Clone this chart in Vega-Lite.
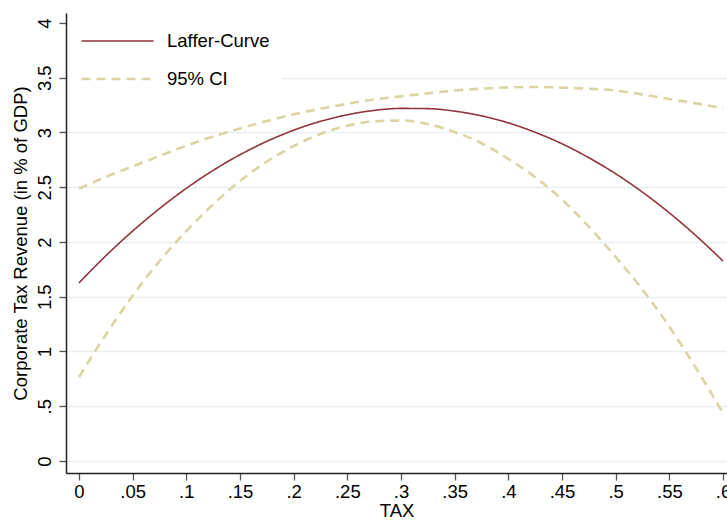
{
  "$schema": "https://vega.github.io/schema/vega-lite/v6.json",
  "width": 661,
  "height": 460,
  "autosize": {"type": "none"},
  "padding": {"left": 66, "top": 13, "right": 0, "bottom": 48},
  "background": "white",
  "config": {"view": {"stroke": null}, "font": "Liberation Sans"},
  "data": {"values": [
    {"tax": 0.000, "value": 1.627, "series": "Laffer-Curve", "band": "fit"},
    {"tax": 0.025, "value": 1.874, "series": "Laffer-Curve", "band": "fit"},
    {"tax": 0.050, "value": 2.100, "series": "Laffer-Curve", "band": "fit"},
    {"tax": 0.075, "value": 2.305, "series": "Laffer-Curve", "band": "fit"},
    {"tax": 0.100, "value": 2.490, "series": "Laffer-Curve", "band": "fit"},
    {"tax": 0.125, "value": 2.654, "series": "Laffer-Curve", "band": "fit"},
    {"tax": 0.150, "value": 2.797, "series": "Laffer-Curve", "band": "fit"},
    {"tax": 0.175, "value": 2.919, "series": "Laffer-Curve", "band": "fit"},
    {"tax": 0.200, "value": 3.021, "series": "Laffer-Curve", "band": "fit"},
    {"tax": 0.225, "value": 3.102, "series": "Laffer-Curve", "band": "fit"},
    {"tax": 0.250, "value": 3.162, "series": "Laffer-Curve", "band": "fit"},
    {"tax": 0.275, "value": 3.202, "series": "Laffer-Curve", "band": "fit"},
    {"tax": 0.300, "value": 3.220, "series": "Laffer-Curve", "band": "fit"},
    {"tax": 0.325, "value": 3.218, "series": "Laffer-Curve", "band": "fit"},
    {"tax": 0.350, "value": 3.195, "series": "Laffer-Curve", "band": "fit"},
    {"tax": 0.375, "value": 3.152, "series": "Laffer-Curve", "band": "fit"},
    {"tax": 0.400, "value": 3.088, "series": "Laffer-Curve", "band": "fit"},
    {"tax": 0.425, "value": 3.002, "series": "Laffer-Curve", "band": "fit"},
    {"tax": 0.450, "value": 2.897, "series": "Laffer-Curve", "band": "fit"},
    {"tax": 0.475, "value": 2.770, "series": "Laffer-Curve", "band": "fit"},
    {"tax": 0.500, "value": 2.623, "series": "Laffer-Curve", "band": "fit"},
    {"tax": 0.525, "value": 2.455, "series": "Laffer-Curve", "band": "fit"},
    {"tax": 0.550, "value": 2.266, "series": "Laffer-Curve", "band": "fit"},
    {"tax": 0.575, "value": 2.056, "series": "Laffer-Curve", "band": "fit"},
    {"tax": 0.600, "value": 1.826, "series": "Laffer-Curve", "band": "fit"},
    {"tax": 0.000, "value": 2.487, "series": "95% CI", "band": "upper"},
    {"tax": 0.025, "value": 2.594, "series": "95% CI", "band": "upper"},
    {"tax": 0.050, "value": 2.690, "series": "95% CI", "band": "upper"},
    {"tax": 0.075, "value": 2.785, "series": "95% CI", "band": "upper"},
    {"tax": 0.100, "value": 2.880, "series": "95% CI", "band": "upper"},
    {"tax": 0.125, "value": 2.964, "series": "95% CI", "band": "upper"},
    {"tax": 0.150, "value": 3.037, "series": "95% CI", "band": "upper"},
    {"tax": 0.175, "value": 3.104, "series": "95% CI", "band": "upper"},
    {"tax": 0.200, "value": 3.166, "series": "95% CI", "band": "upper"},
    {"tax": 0.225, "value": 3.217, "series": "95% CI", "band": "upper"},
    {"tax": 0.250, "value": 3.262, "series": "95% CI", "band": "upper"},
    {"tax": 0.275, "value": 3.302, "series": "95% CI", "band": "upper"},
    {"tax": 0.300, "value": 3.330, "series": "95% CI", "band": "upper"},
    {"tax": 0.325, "value": 3.358, "series": "95% CI", "band": "upper"},
    {"tax": 0.350, "value": 3.383, "series": "95% CI", "band": "upper"},
    {"tax": 0.375, "value": 3.400, "series": "95% CI", "band": "upper"},
    {"tax": 0.400, "value": 3.412, "series": "95% CI", "band": "upper"},
    {"tax": 0.425, "value": 3.416, "series": "95% CI", "band": "upper"},
    {"tax": 0.450, "value": 3.410, "series": "95% CI", "band": "upper"},
    {"tax": 0.475, "value": 3.400, "series": "95% CI", "band": "upper"},
    {"tax": 0.500, "value": 3.383, "series": "95% CI", "band": "upper"},
    {"tax": 0.525, "value": 3.347, "series": "95% CI", "band": "upper"},
    {"tax": 0.550, "value": 3.306, "series": "95% CI", "band": "upper"},
    {"tax": 0.575, "value": 3.266, "series": "95% CI", "band": "upper"},
    {"tax": 0.600, "value": 3.222, "series": "95% CI", "band": "upper"},
    {"tax": 0.000, "value": 0.767, "series": "95% CI", "band": "lower"},
    {"tax": 0.025, "value": 1.154, "series": "95% CI", "band": "lower"},
    {"tax": 0.050, "value": 1.510, "series": "95% CI", "band": "lower"},
    {"tax": 0.075, "value": 1.825, "series": "95% CI", "band": "lower"},
    {"tax": 0.100, "value": 2.100, "series": "95% CI", "band": "lower"},
    {"tax": 0.125, "value": 2.344, "series": "95% CI", "band": "lower"},
    {"tax": 0.150, "value": 2.557, "series": "95% CI", "band": "lower"},
    {"tax": 0.175, "value": 2.734, "series": "95% CI", "band": "lower"},
    {"tax": 0.200, "value": 2.876, "series": "95% CI", "band": "lower"},
    {"tax": 0.225, "value": 2.987, "series": "95% CI", "band": "lower"},
    {"tax": 0.250, "value": 3.062, "series": "95% CI", "band": "lower"},
    {"tax": 0.275, "value": 3.102, "series": "95% CI", "band": "lower"},
    {"tax": 0.300, "value": 3.110, "series": "95% CI", "band": "lower"},
    {"tax": 0.325, "value": 3.078, "series": "95% CI", "band": "lower"},
    {"tax": 0.350, "value": 3.005, "series": "95% CI", "band": "lower"},
    {"tax": 0.375, "value": 2.902, "series": "95% CI", "band": "lower"},
    {"tax": 0.400, "value": 2.758, "series": "95% CI", "band": "lower"},
    {"tax": 0.425, "value": 2.592, "series": "95% CI", "band": "lower"},
    {"tax": 0.450, "value": 2.387, "series": "95% CI", "band": "lower"},
    {"tax": 0.475, "value": 2.140, "series": "95% CI", "band": "lower"},
    {"tax": 0.500, "value": 1.863, "series": "95% CI", "band": "lower"},
    {"tax": 0.525, "value": 1.565, "series": "95% CI", "band": "lower"},
    {"tax": 0.550, "value": 1.226, "series": "95% CI", "band": "lower"},
    {"tax": 0.575, "value": 0.846, "series": "95% CI", "band": "lower"},
    {"tax": 0.600, "value": 0.436, "series": "95% CI", "band": "lower"}
  ]},
  "mark": {"type": "line", "interpolate": "monotone", "clip": true},
  "encoding": {
    "x": {
      "field": "tax", "type": "quantitative",
      "scale": {"domain": [-0.0121, 0.6037], "nice": false, "zero": false},
      "axis": {
        "title": "TAX",
        "values": [0, 0.05, 0.1, 0.15, 0.2, 0.25, 0.3, 0.35, 0.4, 0.45, 0.5, 0.55, 0.6],
        "labelExpr": "replace(format(datum.value, '.2~f'), '0.', '.')",
        "grid": false,
        "labelFontSize": 18.5, "titleFontSize": 18.5, "titleFontWeight": "normal",
        "labelColor": "black", "titleColor": "black",
        "domainColor": "#222", "domainWidth": 1.5,
        "tickColor": "#555", "tickSize": 7, "tickWidth": 1.3,
        "labelPadding": 2, "titlePadding": 1,
        "labelFlush": false, "labelOverlap": false
      }
    },
    "y": {
      "field": "value", "type": "quantitative",
      "scale": {"domain": [-0.1096, 4.0913], "nice": false, "zero": false},
      "axis": {
        "title": "Corporate Tax Revenue (in % of GDP)",
        "values": [0, 0.5, 1, 1.5, 2, 2.5, 3, 3.5, 4],
        "labelExpr": "replace(format(datum.value, '.1~f'), '0.', '.')",
        "labelAngle": -90,
        "grid": true, "gridColor": "#e8eff1", "gridWidth": 1.5,
        "gridOpacity": {"condition": {"test": "datum.value >= 4", "value": 0}, "value": 1},
        "labelFontSize": 18.5, "titleFontSize": 18.5, "titleFontWeight": "normal",
        "labelColor": "black", "titleColor": "black",
        "domainColor": "#222", "domainWidth": 1.5,
        "tickColor": "#555", "tickSize": 7, "tickWidth": 1.3,
        "labelPadding": 5, "titlePadding": 5
      }
    },
    "color": {
      "field": "series", "type": "nominal",
      "scale": {"domain": ["Laffer-Curve", "95% CI"], "range": ["#90353b", "#dbd4a2"]},
      "legend": {
        "title": null, "orient": "none", "legendX": 2, "legendY": 7,
        "fillColor": "white", "padding": 12,
        "symbolType": "stroke", "symbolSize": 5184, "clipHeight": 18,
        "labelFontSize": 18.5, "labelColor": "black", "labelOffset": 12,
        "rowPadding": 19, "labelLimit": 300
      }
    },
    "strokeDash": {
      "field": "series", "type": "nominal",
      "scale": {"domain": ["Laffer-Curve", "95% CI"], "range": [[1, 0], [9, 6]]}
    },
    "strokeWidth": {
      "field": "series", "type": "nominal",
      "scale": {"domain": ["Laffer-Curve", "95% CI"], "range": [1.6, 2.6]}
    },
    "detail": {"field": "band", "type": "nominal"}
  }
}
